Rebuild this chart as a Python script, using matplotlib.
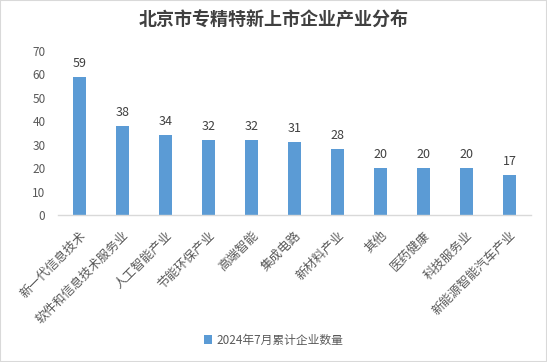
import matplotlib
matplotlib.use("Agg")
import matplotlib.pyplot as plt
from matplotlib.patches import Rectangle

plt.rcParams['font.family'] = ['Noto Sans CJK SC', 'DejaVu Sans']

# data
categories = ['新一代信息技术', '软件和信息技术服务业', '人工智能产业', '节能环保产业',
              '高端智能', '集成电路', '新材料产业', '其他', '医药健康',
              '科技服务业', '新能源智能汽车产业']
counts = [59, 38, 34, 32, 32, 31, 28, 20, 20, 20, 17]
series_name = '2024年7月累计企业数量'
title = '北京市专精特新上市企业产业分布'

bar_color = '#5B9BD5'
text_color = '#595959'

fig = plt.figure(figsize=(5.47, 3.62), dpi=100)
ax = fig.add_axes([58 / 547, 1 - 215 / 362, (531 - 58) / 547, (215 - 51) / 362])

x = range(len(categories))
bars = ax.bar(x, counts, width=0.3, color=bar_color, label=series_name)

for xi, v in zip(x, counts):
    ax.text(xi, v + 3, str(v), ha='center', va='bottom', fontsize=9, color='#404040')

ax.set_xlim(-0.5, len(categories) - 0.5)
ax.set_ylim(0, 70)
ax.set_yticks(range(0, 71, 10))
ax.tick_params(axis='y', length=0, labelsize=8.5, labelcolor=text_color, pad=9)
ax.set_xticks(list(x))
ax.set_xticklabels(categories, rotation=45, ha='right', rotation_mode='anchor',
                   fontsize=9, color=text_color)
ax.tick_params(axis='x', length=0, pad=10)

for side in ['top', 'right', 'left']:
    ax.spines[side].set_visible(False)
ax.spines['bottom'].set_color('#D9D9D9')
ax.spines['bottom'].set_linewidth(1)

fig.suptitle(title, y=1 - 20 / 362, va='center', fontsize=13,
             fontweight='bold', color='#404040')

fig.legend(handles=[bars], labels=[series_name], loc='center',
           bbox_to_anchor=(0.5, 1 - 340 / 362), frameon=False, fontsize=8.5,
           labelcolor=text_color, handlelength=0.7, handleheight=0.7,
           handletextpad=0.4)

fig.patches.append(Rectangle((0, 0), 1, 1, transform=fig.transFigure,
                             fill=False, edgecolor='#D9D9D9', linewidth=1.5))

fig.savefig('out.png', dpi=100)
